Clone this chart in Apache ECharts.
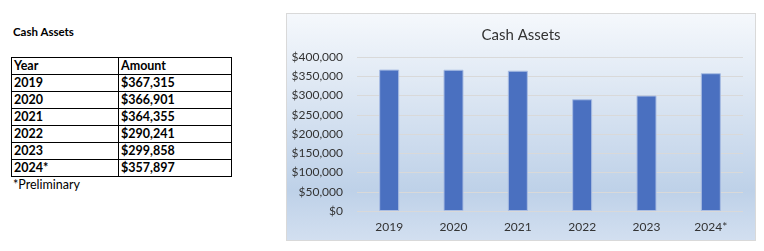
<!DOCTYPE html>
<html>
<head>
<meta charset="utf-8">
<script src="https://cdn.jsdelivr.net/npm/echarts@6/dist/echarts.min.js"></script>
<style>
  html, body { margin: 0; padding: 0; background: #fff; }
  body { width: 764px; height: 251px; position: relative; overflow: hidden; font-family: Lato, "Open Sans", sans-serif; color: #000; }
  #side-title { position: absolute; left: 13px; top: 25px; font-size: 11.5px; font-weight: 700; }
  #cash-table { position: absolute; left: 11px; top: 57px; border-collapse: collapse; font-size: 12.5px; font-weight: 700; }
  #cash-table td { border: 1px solid #000; height: 16px; padding: 0 2px; line-height: 16px; }
  #cash-table td:first-child { width: 102px; }
  #cash-table td:last-child { width: 108px; }
  #note { position: absolute; left: 13px; top: 177px; font-size: 12.5px; }
  #chart-box { position: absolute; left: 286px; top: 13px; width: 470px; height: 228px; border: 1px solid #d9d9d9; box-sizing: border-box; }
  #chart { width: 468px; height: 226px; }
</style>
</head>
<body>
<div id="side-title">Cash Assets</div>
<table id="cash-table"></table>
<div id="note">*Preliminary</div>
<div id="chart-box"><div id="chart"></div></div>
<script>
const years = ['2019', '2020', '2021', '2022', '2023', '2024*'];
const amounts = [367315, 366901, 364355, 290241, 299858, 357897];
const tableHeader = ['Year', 'Amount'];

const money = v => '$' + v.toLocaleString('en-US');

// table on the left
const table = document.getElementById('cash-table');
const rows = [tableHeader].concat(years.map((y, i) => [y, money(amounts[i])]));
rows.forEach(r => {
  const tr = document.createElement('tr');
  r.forEach(c => {
    const td = document.createElement('td');
    td.textContent = c;
    tr.appendChild(td);
  });
  table.appendChild(tr);
});

const chart = echarts.init(document.getElementById('chart'));
chart.setOption({
  backgroundColor: {
    type: 'linear', x: 0, y: 0, x2: 0, y2: 1,
    colorStops: [
      { offset: 0, color: '#f5f8fc' },
      { offset: 0.78, color: '#bed1e8' },
      { offset: 1, color: '#d2dff0' }
    ]
  },
  textStyle: { fontFamily: 'Lato, "Open Sans", sans-serif' },
  title: {
    text: 'Cash Assets',
    left: 'center',
    top: 9,
    textStyle: { fontSize: 15, fontWeight: 'normal', color: '#333333' }
  },
  grid: { left: 70, right: 12, top: 43, height: 154 },
  xAxis: {
    type: 'category',
    data: years,
    axisLine: { show: false },
    axisTick: { show: false },
    axisLabel: { color: '#333333', fontSize: 12, margin: 10 }
  },
  yAxis: {
    type: 'value',
    min: 0,
    max: 400000,
    interval: 50000,
    axisLabel: { color: '#333333', fontSize: 12, margin: 14, formatter: money },
    splitLine: { lineStyle: { color: '#d9d9d9', width: 1 } }
  },
  series: [{
    type: 'bar',
    data: amounts,
    barWidth: 20,
    itemStyle: { color: '#4a70c0', borderColor: '#a9bde3', borderWidth: 1 }
  }]
});
</script>
</body>
</html>
